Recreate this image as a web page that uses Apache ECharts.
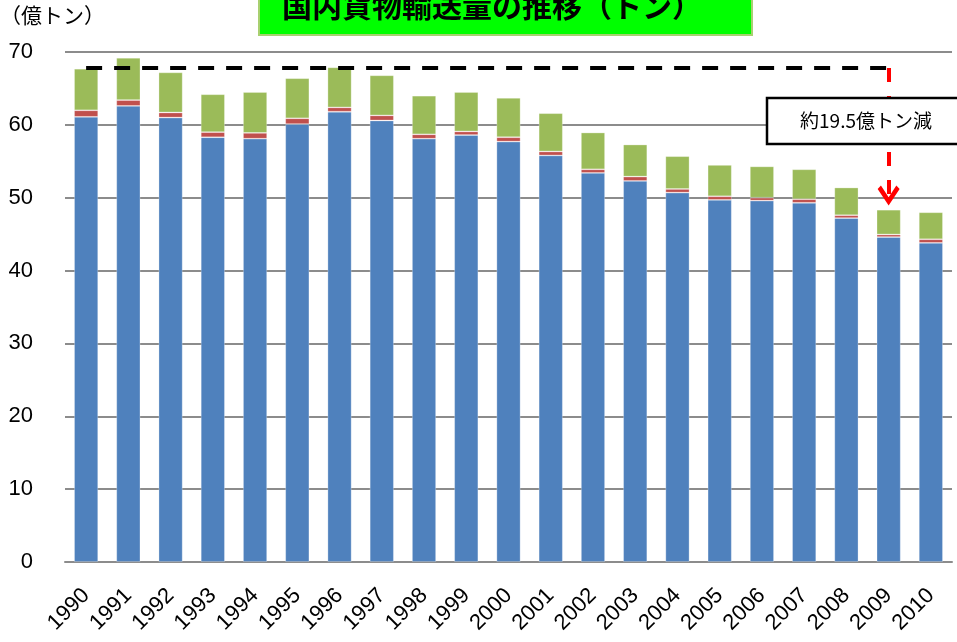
<!DOCTYPE html>
<html>
<head>
<meta charset="utf-8">
<script src="https://cdn.jsdelivr.net/npm/echarts@6/dist/echarts.min.js"></script>
<style>
  html, body { margin: 0; padding: 0; background: #fff; }
  #chart { width: 957px; height: 642px; }
</style>
</head>
<body>
<div id="chart"></div>
<script>
// 年度
const years = ['1990', '1991', '1992', '1993', '1994', '1995', '1996', '1997', '1998', '1999',
  '2000', '2001', '2002', '2003', '2004', '2005', '2006', '2007', '2008', '2009', '2010']

// 輸送量（億トン）
const truck = [61.1, 62.6, 61.0, 58.3, 58.1, 60.1, 61.8, 60.6, 58.1, 58.6,
  57.7, 55.8, 53.4, 52.3, 50.7, 49.7, 49.6, 49.3, 47.2, 44.6, 43.8]
const rail = [0.9, 0.8, 0.7, 0.7, 0.8, 0.8, 0.6, 0.7, 0.6, 0.5,
  0.6, 0.55, 0.5, 0.6, 0.5, 0.5, 0.4, 0.5, 0.4, 0.35, 0.5]
const ship = [5.7, 5.8, 5.5, 5.2, 5.6, 5.5, 5.5, 5.5, 5.3, 5.4,
  5.4, 5.25, 5.05, 4.4, 4.5, 4.3, 4.3, 4.1, 3.8, 3.4, 3.7]

// 1990年水準と2009年の差
const baseLevel = 67.8
const arrowEnd = 50.3

const chart = echarts.init(document.getElementById('chart'))

const fontJP = "'Noto Sans CJK JP', sans-serif"
const fontNum = "'Liberation Sans', 'Noto Sans', sans-serif"

const barStyle = (color) => ({
  color,
  borderColor: 'rgba(255,255,255,0.35)',
  borderWidth: 0.8
})

const option = {
  animation: false,
  grid: { left: 65, right: 5, top: 52, bottom: 80 },
  xAxis: {
    type: 'category',
    data: years,
    axisLine: { lineStyle: { color: '#8c8c8c', width: 2 } },
    axisTick: { show: false },
    axisLabel: {
      rotate: 45,
      margin: 30,
      color: '#000',
      fontSize: 22,
      fontFamily: fontNum
    }
  },
  yAxis: {
    type: 'value',
    min: 0,
    max: 70,
    interval: 10,
    axisLine: { show: false },
    axisTick: { show: false },
    axisLabel: { margin: 32, color: '#000', fontSize: 22, fontFamily: fontNum },
    splitLine: { lineStyle: { color: '#8c8c8c', width: 2 } }
  },
  series: [
    {
      name: '自動車',
      type: 'bar',
      stack: 'total',
      barWidth: '57%',
      itemStyle: barStyle('#4F81BD'),
      data: truck
    },
    {
      name: '鉄道',
      type: 'bar',
      stack: 'total',
      itemStyle: barStyle('#C0504D'),
      data: rail
    },
    {
      name: '内航海運',
      type: 'bar',
      stack: 'total',
      itemStyle: barStyle('#9BBB59'),
      data: ship,
      markLine: {
        silent: true,
        label: { show: false },
        data: [
          [
            { coord: ['1990', baseLevel], symbol: 'none',
              lineStyle: { color: '#000', width: 4, type: [16, 12] } },
            { coord: ['2009', baseLevel], symbol: 'none' }
          ],
          [
            { coord: ['2009', baseLevel], symbol: 'none',
              lineStyle: { color: '#ff0000', width: 4, type: [14, 14] } },
            { coord: ['2009', arrowEnd],
              symbol: 'path://M10,0 L20,14 L17,17 L10,7 L3,17 L0,14 Z',
              symbolSize: [22, 20] }
          ]
        ]
      }
    }
  ],
  graphic: [
    {
      type: 'text',
      left: 0,
      top: 5,
      style: { text: '（億トン）', fontSize: 21, fontFamily: fontJP, fill: '#000' }
    },
    {
      type: 'rect',
      shape: { x: 259, y: -5, width: 493, height: 40 },
      style: { fill: '#00ff00', stroke: '#a8d070', lineWidth: 2 },
      z: 10
    },
    {
      type: 'text',
      x: 282,
      y: 6,
      style: {
        text: '国内貨物輸送量の推移（トン）',
        fontSize: 30,
        fontWeight: 'bold',
        fontFamily: fontJP,
        fill: '#000',
        verticalAlign: 'middle'
      },
      z: 11
    },
    {
      type: 'rect',
      shape: { x: 767, y: 98, width: 200, height: 46 },
      style: { fill: '#fff', stroke: '#000', lineWidth: 2.5 },
      z: 10
    },
    {
      type: 'text',
      x: 866,
      y: 121,
      style: {
        text: '約19.5億トン減',
        fontSize: 19,
        fontFamily: fontJP,
        fill: '#000',
        align: 'center',
        verticalAlign: 'middle'
      },
      z: 11
    }
  ]
}

chart.setOption(option)
</script>
</body>
</html>
